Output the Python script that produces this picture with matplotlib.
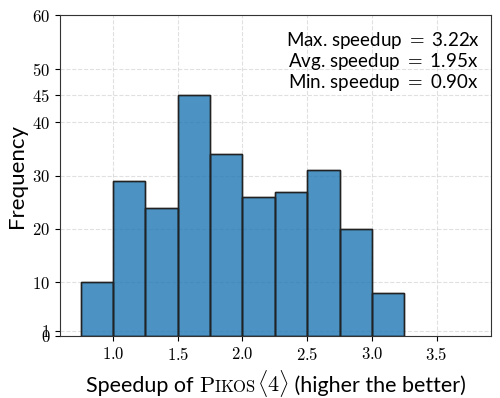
import numpy as np
import matplotlib.pyplot as plt
from matplotlib.offsetbox import TextArea, HPacker, AnchoredOffsetbox

plt.rcParams['mathtext.fontset'] = 'cm'
plt.rcParams['font.family'] = ['Lato', 'DejaVu Sans']

# histogram data (bins of 0.25)
bin_edges = [0.75, 1.0, 1.25, 1.5, 1.75, 2.0, 2.25, 2.5, 2.75, 3.0, 3.25]
counts = [10, 29, 24, 45, 34, 26, 27, 31, 20, 8]
yticks = [0, 1, 10, 20, 30, 40, 45, 50, 60]
xticks = [1.0, 1.5, 2.0, 2.5, 3.0, 3.5]
stats = ['Max. speedup $=$ 3.22x', 'Avg. speedup $=$ 1.95x', 'Min. speedup $=$ 0.90x']

fig = plt.figure(figsize=(5, 3.98), dpi=100)
ax = fig.add_axes([0.12, 0.156, 0.862, 0.806])

widths = np.diff(bin_edges)
ax.bar(bin_edges[:-1], counts, width=widths, align='edge', color='C0', alpha=0.8,
       edgecolor='black', linewidth=1.0, zorder=3)
# outline at full opacity
ax.bar(bin_edges[:-1], counts, width=widths, align='edge', fill=False,
       edgecolor='#222222', linewidth=1.0, zorder=4)

ax.set_xlim(0.59, 3.92)
ax.set_ylim(0, 60)
ax.set_yticks(yticks)
ax.set_yticklabels([f'${t}$' for t in yticks], fontsize=12)
ax.set_xticks(xticks)
ax.set_xticklabels([f'${t:.1f}$' for t in xticks], fontsize=12)
ax.grid(True, linestyle='--', color='#cccccc', alpha=0.6, linewidth=0.8, zorder=0)
for s in ax.spines.values():
    s.set_color('#333333')

ax.set_ylabel('Frequency', fontsize=16)

ax.text(0.975, 0.955, '\n'.join(stats), transform=ax.transAxes, ha='right', va='top',
        multialignment='center', fontsize=13.5, linespacing=1.0)

# x label with small caps name
parts = [
    TextArea('Speedup of ', textprops=dict(fontsize=15.5)),
    TextArea(r'$\mathrm{P}$', textprops=dict(fontsize=16)),
    TextArea(r'$\mathrm{IKOS}$', textprops=dict(fontsize=12)),
    TextArea(r'$\langle 4\rangle$', textprops=dict(fontsize=16)),
    TextArea(' (higher the better)', textprops=dict(fontsize=15.5)),
]
box = HPacker(children=parts, align='baseline', pad=0, sep=0)
anch = AnchoredOffsetbox(loc='upper center', child=box, pad=0, frameon=False,
                         bbox_to_anchor=(0.5, -0.1), bbox_transform=ax.transAxes,
                         borderpad=0)
ax.add_artist(anch)

fig.savefig('out.png', dpi=100)
